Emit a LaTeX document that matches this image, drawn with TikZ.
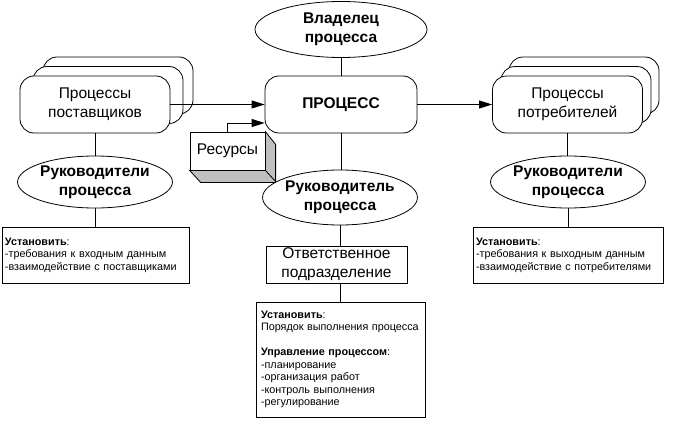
\documentclass[tikz,border=0pt]{standalone}
\usepackage{fontspec}
\setmainfont{Liberation Sans}
\usetikzlibrary{shapes.geometric,arrows.meta}
\newcommand\mainsz{\fontsize{15.5}{19}\selectfont}
\newcommand\smallsz{\fontsize{10.8}{12.5}\selectfont}
\definecolor{sidegray}{HTML}{C0C0C0}
\begin{document}
\begin{tikzpicture}[x=1pt,y=-1pt,
  every node/.style={inner sep=0pt},
  line/.style={line width=0.8pt},
  arr/.style={line width=0.8pt,-{Triangle[length=13pt,width=8pt]}},
  rbox/.style={draw,line width=0.8pt,fill=white,rounded corners=14pt,minimum width=150pt,minimum height=57pt,align=center,font=\mainsz},
  ell/.style={draw,line width=0.8pt,fill=white,ellipse,align=center,font=\mainsz\bfseries},
  sqbox/.style={draw,line width=0.8pt,fill=white,align=center,font=\mainsz},
  note/.style={draw,line width=0.8pt,fill=white,align=left,font=\smallsz}
]
\useasboundingbox (0,0) rectangle (674,428);
% owner
\node[ell,minimum width=172pt,minimum height=56pt] (owner) at (341,29.5) {Владелец\\процесса};
% process
\node[rbox,minimum width=152pt,font=\mainsz\bfseries] (process) at (341,104.5) {ПРОЦЕСС};
% suppliers
\node[rbox] (sup3) at (118,85.5) {};
\node[rbox] (sup2) at (108,95) {};
\node[rbox] (sup) at (95,104.5) {Процессы\\поставщиков};
% consumers
\node[rbox] (con3) at (584,85.5) {};
\node[rbox] (con2) at (576,95) {};
\node[rbox] (con) at (567.5,104.5) {Процессы\\потребителей};
% resources
\node[sqbox,minimum width=75pt,minimum height=38pt] (res) at (227.5,151) {Ресурсы};
\draw[line,fill=sidegray] (res.south west) -- ++(11,12) -- ++(75,0) -- ++(0,-38) -- (res.north east) -- (res.south east) -- cycle;
\draw[line] (res.south east) -- ++(11,12);
% leaders
\node[ell,minimum width=150pt,minimum height=52pt] (supL) at (95,182) {Руководители\\процесса};
\node[ell,minimum width=152pt,minimum height=52pt] (conL) at (568,182) {Руководители\\процесса};
\node[ell,minimum width=148pt,minimum height=55pt] (mgr) at (340,197.5) {Руководитель\\процесса};
% department
\node[sqbox,minimum width=141pt,minimum height=37pt] (dept) at (336.5,264.5) {Ответственное\\подразделение};
% notes
\node[note,minimum width=187pt,minimum height=56pt,text width=181pt] (supS) at (95.5,255)
 {\textbf{Установить}:\\-требования к входным данным\\-взаимодействие с поставщиками};
\node[note,minimum width=190pt,minimum height=56pt,text width=184pt] (conS) at (568,255)
 {\textbf{Установить}:\\-требования к выходным данным\\-взаимодействие с потребителями};
\node[note,minimum width=169pt,minimum height=115pt,text width=159pt] (mgrS) at (340.5,359.5)
 {\textbf{Установить}:\\Порядок выполнения процесса\\[12.5pt]\textbf{Управление процессом}:\\-планирование\\-организация работ\\-контроль выполнения\\-регулирование};
% connectors
\draw[line] (owner) -- (process);
\draw[arr] (sup) -- (process);
\draw[arr] (process) -- (con);
\draw[arr] (res.north) |- (process.west |- 0,123);
\draw[line] (process.south) -- (process.south |- mgr.north);
\draw[line] (mgr.south) -- (mgr.south |- dept.north);
\draw[line] (mgrS.north) -- (mgrS.north |- dept.south);
\draw[line] (sup.south) -- (sup.south |- supL.north);
\draw[line] (supL.south) -- (supL.south |- supS.north);
\draw[line] (con.south) -- (con.south |- conL.north);
\draw[line] (conL.south) -- (conL.south |- conS.north);
\end{tikzpicture}
\end{document}
